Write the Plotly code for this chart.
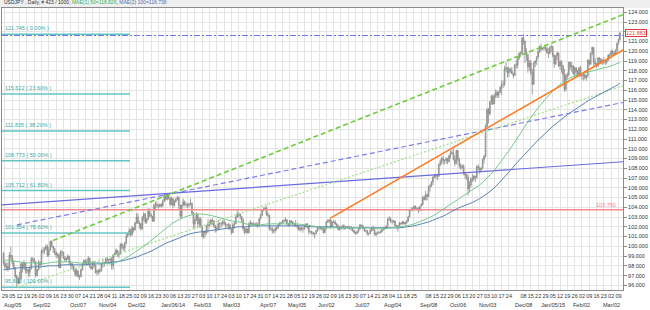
import datetime as dt
import plotly.graph_objects as go

# ---------------- data ----------------
first_open = 99.30
closes = [
    98.25,
    97.90, 97.95, 97.70, 99.10, 98.90,
    98.30, 97.80, 96.90, 96.70, 96.20,
    96.70, 98.20, 97.80, 98.30, 97.50,
    97.60, 97.30, 97.70, 98.70, 98.70,
    98.40, 97.00, 97.60, 98.40, 98.10,
    99.50, 99.50, 99.70, 100.00, 99.10,
    99.60, 100.50, 100.00, 99.80, 99.40,
    99.10, 99.10, 97.80, 99.40, 99.40,
    98.80, 98.60, 98.70, 99.00, 98.30,
    98.20, 98.00, 97.60, 97.10, 97.50,
    96.90, 96.90, 97.60, 98.20, 98.60,
    98.40, 98.20, 98.80, 97.90, 97.70,
    98.20, 98.10, 97.30, 97.50, 97.40,
    97.50, 98.20, 98.30, 98.30, 98.70,
    98.60, 98.60, 98.70, 98.00, 99.10,
    99.20, 99.60, 99.10, 99.20, 100.20,
    99.90, 99.80, 100.30, 101.00, 101.30,
    101.60, 101.20, 101.90, 101.70, 102.40,
    103.00, 102.40, 102.30, 101.80, 102.90,
    103.30, 102.50, 102.80, 103.60, 103.20,
    103.10, 102.60, 104.20, 104.30, 104.20,
    104.10, 104.30, 104.10, 104.60, 105.30,
    104.80, 105.30, 104.90, 104.30, 104.90,
    104.20, 104.60, 104.80, 105.00, 104.20,
    103.10, 104.20, 104.60, 104.30, 104.30,
    104.20, 104.30, 104.40, 103.40, 102.30,
    102.70, 103.20, 102.30, 102.80, 102.00,
    101.00, 101.50, 101.40, 102.10, 102.30,
    102.30, 102.70, 102.60, 102.10, 101.80,
    101.80, 102.30, 102.30, 102.30, 102.50,
    102.40, 102.20, 102.20, 102.20, 101.80,
    101.40, 102.20, 102.30, 103.00, 103.30,
    103.30, 103.10, 102.70, 101.80, 101.40,
    101.80, 101.40, 102.30, 102.40, 102.30,
    102.30, 102.30, 102.20, 102.10, 102.80,
    103.20, 103.70, 103.80, 103.90, 103.30,
    103.20, 101.80, 101.80, 101.60, 101.60,
    101.80, 101.90, 102.20, 102.40, 102.40,
    102.60, 102.60, 102.70, 102.30, 102.20,
    102.60, 102.50, 102.30, 102.30, 102.20,
    102.10, 101.70, 101.90, 101.90, 101.80,
    102.20, 102.30, 102.00, 101.50, 101.50,
    101.40, 101.30, 101.30, 101.60, 101.90,
    101.90, 101.90, 101.80, 101.40, 101.80,
    102.50, 102.60, 102.70, 102.00, 102.50,
    102.50, 102.30, 102.10, 101.70, 102.00,
    101.90, 102.10, 101.90, 101.90, 102.00,
    101.90, 101.90, 101.90, 101.60, 101.40,
    101.30, 101.50, 101.80, 102.20, 102.10,
    101.90, 101.60, 101.60, 101.30, 101.30,
    101.60, 101.90, 101.70, 101.20, 101.30,
    101.40, 101.40, 101.50, 101.70, 101.80,
    101.90, 102.10, 102.80, 102.80, 102.60,
    102.60, 102.60, 102.10, 102.10, 102.00,
    102.40, 102.30, 102.50, 102.30, 102.40,
    102.60, 103.00, 103.70, 103.80, 103.80,
    104.10, 103.90, 103.90, 103.70, 104.10,
    104.30, 105.00, 104.80, 105.30, 105.10,
    106.10, 106.20, 106.60, 107.10, 107.30,
    107.20, 107.20, 108.40, 108.70, 109.00,
    108.80, 108.80, 109.00, 108.70, 109.30,
    109.60, 109.60, 108.90, 108.50, 109.80,
    108.90, 108.30, 108.10, 108.20, 107.60,
    107.30, 107.10, 105.90, 106.30, 106.90,
    106.90, 107.20, 107.10, 108.20, 108.10,
    107.80, 108.00, 108.90, 109.20, 112.30,
    114.00, 113.60, 114.80, 115.40, 114.60,
    115.40, 115.80, 115.50, 115.80, 116.30,
    116.60, 116.60, 118.20, 118.30, 117.80,
    118.20, 118.00, 117.70, 117.50, 118.60,
    118.60, 119.30, 119.80, 119.80, 121.40,
    121.00, 119.90, 119.60, 118.40, 118.80,
    117.80, 116.60, 118.80, 119.00, 119.40,
    120.00, 120.50, 120.20, 120.30, 120.40,
    120.30, 119.90, 119.80, 120.40, 120.50,
    119.60, 118.70, 119.50, 119.80, 118.50,
    118.90, 118.50, 117.60, 116.10, 117.50,
    117.60, 118.90, 118.40, 118.50, 117.70,
    118.30, 117.90, 117.50, 118.30, 117.50,
    117.50, 117.60, 117.30, 117.50, 119.10,
    118.70, 119.80, 120.40, 118.90, 118.70,
    118.50, 119.30, 119.20, 118.90, 119.00,
    118.90, 118.90, 119.10, 119.60, 119.60,
    120.00, 119.80, 119.70, 120.10, 120.80,
    121.20, 121.883,
]
highs = [
    99.40,
    98.50, 98.30, 98.40, 99.40, 99.95,
    99.10, 98.60, 97.90, 97.10, 96.90,
    97.40, 98.40, 98.40, 98.60, 98.10,
    97.80, 97.70, 98.00, 98.90, 98.90,
    98.80, 98.50, 97.70, 98.60, 98.40,
    99.70, 99.90, 99.90, 100.20, 100.20,
    99.90, 100.60, 100.60, 100.00, 99.80,
    99.50, 99.30, 99.30, 99.60, 99.60,
    99.40, 99.00, 98.90, 99.20, 99.00,
    98.40, 98.30, 98.00, 97.70, 97.70,
    97.50, 97.10, 97.70, 98.30, 98.60,
    98.50, 98.70, 99.00, 98.80, 98.00,
    98.40, 98.50, 98.10, 97.60, 97.70,
    97.70, 98.30, 98.70, 98.40, 98.80,
    98.90, 98.70, 98.80, 98.90, 99.20,
    99.40, 99.80, 99.60, 99.50, 100.30,
    100.40, 100.20, 100.50, 101.30, 101.40,
    101.90, 101.80, 102.10, 101.90, 102.50,
    103.40, 103.40, 102.60, 102.40, 103.10,
    103.50, 103.40, 102.90, 103.90, 103.90,
    103.40, 103.10, 104.40, 104.60, 104.60,
    104.30, 104.40, 104.40, 104.80, 105.40,
    105.30, 105.40, 105.45, 105.10, 105.10,
    104.90, 104.80, 105.00, 105.20, 105.10,
    104.20, 104.30, 104.90, 104.70, 104.50,
    104.40, 104.50, 104.90, 104.50, 103.50,
    102.90, 103.50, 103.40, 103.00, 103.00,
    102.20, 101.60, 101.60, 102.20, 102.80,
    102.60, 102.80, 102.90, 102.70, 102.20,
    102.10, 102.70, 102.50, 102.50, 102.70,
    102.70, 102.50, 102.30, 102.40, 102.30,
    101.80, 102.40, 102.50, 103.10, 103.70,
    103.50, 103.40, 103.10, 102.90, 102.00,
    101.90, 101.80, 102.50, 102.70, 102.50,
    102.40, 102.40, 102.50, 102.40, 102.90,
    103.30, 103.80, 104.00, 104.10, 104.10,
    103.50, 103.20, 102.00, 102.00, 101.80,
    102.00, 102.00, 102.30, 102.50, 102.50,
    102.70, 102.80, 103.00, 102.80, 102.40,
    102.70, 102.70, 102.60, 102.40, 102.70,
    102.20, 102.20, 102.00, 102.00, 101.90,
    102.20, 102.30, 102.40, 102.00, 101.60,
    101.60, 101.50, 101.40, 101.70, 102.00,
    102.10, 102.10, 102.00, 101.90, 101.90,
    102.60, 102.80, 102.80, 102.80, 102.60,
    102.70, 102.70, 102.40, 102.30, 102.10,
    102.10, 102.20, 102.30, 102.10, 102.10,
    102.10, 102.10, 102.10, 101.90, 101.70,
    101.50, 101.60, 101.90, 102.30, 102.20,
    102.20, 101.90, 101.70, 101.70, 101.40,
    101.80, 102.00, 102.10, 101.80, 101.50,
    101.50, 101.60, 101.60, 101.80, 101.90,
    102.00, 102.10, 102.90, 103.10, 103.00,
    102.70, 102.70, 102.60, 102.20, 102.20,
    102.50, 102.40, 102.60, 102.60, 102.50,
    102.70, 103.10, 103.80, 104.00, 104.00,
    104.20, 104.20, 104.00, 104.00, 104.10,
    104.40, 105.20, 105.20, 105.70, 105.40,
    106.20, 106.40, 106.70, 107.20, 107.40,
    107.40, 107.30, 108.50, 108.90, 109.20,
    109.30, 108.90, 109.10, 109.10, 109.40,
    109.80, 109.90, 110.09, 109.30, 109.90,
    109.90, 109.10, 108.50, 108.40, 108.40,
    107.60, 107.40, 107.40, 106.70, 107.10,
    107.40, 107.30, 107.20, 108.30, 108.40,
    108.10, 108.10, 109.00, 109.40, 112.50,
    114.20, 114.20, 114.90, 115.50, 115.60,
    115.60, 116.10, 116.00, 115.90, 116.40,
    117.00, 117.00, 118.50, 118.90, 118.40,
    118.40, 118.30, 118.40, 117.80, 118.70,
    119.10, 119.40, 119.90, 120.00, 121.40,
    121.75, 121.10, 120.30, 119.80, 119.10,
    119.10, 118.20, 118.90, 119.10, 119.50,
    120.10, 120.60, 120.80, 120.40, 120.50,
    120.50, 120.50, 120.30, 120.50, 120.70,
    120.50, 119.70, 119.60, 120.00, 119.90,
    119.10, 119.10, 118.60, 118.20, 117.70,
    117.80, 118.90, 118.90, 118.90, 118.60,
    118.40, 118.40, 118.10, 118.40, 118.50,
    117.70, 117.80, 117.70, 117.60, 119.20,
    119.10, 119.90, 120.48, 120.40, 119.30,
    118.80, 119.40, 119.40, 119.30, 119.20,
    119.40, 119.10, 119.20, 119.70, 119.80,
    120.10, 120.20, 120.00, 120.20, 120.90,
    121.30, 122.00,
]
lows = [
    98.10,
    97.60, 97.55, 97.40, 97.60, 98.55,
    98.10, 97.60, 96.70, 95.81, 96.10,
    96.20, 96.60, 97.30, 97.60, 97.20,
    97.20, 96.80, 96.90, 97.60, 98.40,
    98.20, 96.80, 96.90, 97.50, 97.70,
    98.20, 99.20, 99.20, 99.60, 98.90,
    98.90, 99.60, 99.90, 99.30, 99.10,
    98.80, 98.80, 97.75, 97.80, 99.00,
    98.70, 98.40, 98.40, 98.60, 98.10,
    97.70, 97.70, 97.40, 96.90, 96.90,
    96.80, 96.56, 96.80, 97.50, 98.00,
    98.10, 98.00, 98.10, 97.80, 97.60,
    97.60, 97.80, 97.20, 97.00, 97.10,
    97.30, 97.40, 97.80, 97.90, 98.20,
    98.30, 98.30, 98.40, 97.60, 97.60,
    98.90, 99.10, 98.90, 98.80, 99.20,
    99.70, 99.50, 99.50, 100.20, 100.90,
    101.10, 101.00, 101.10, 101.40, 101.60,
    102.30, 102.30, 101.80, 101.60, 101.70,
    102.60, 102.30, 102.30, 102.70, 103.00,
    102.90, 102.50, 102.50, 103.70, 103.90,
    103.90, 104.00, 104.00, 104.10, 104.60,
    104.70, 104.70, 104.80, 104.10, 104.20,
    103.90, 104.10, 104.50, 104.70, 103.80,
    102.90, 102.90, 104.10, 104.10, 104.00,
    103.90, 104.00, 104.20, 103.30, 101.80,
    101.80, 102.60, 102.00, 101.90, 101.90,
    100.90, 100.76, 100.90, 101.20, 101.40,
    102.00, 102.10, 102.20, 101.90, 101.40,
    101.50, 101.60, 101.80, 101.90, 102.10,
    102.20, 101.90, 101.90, 101.70, 101.70,
    101.20, 101.50, 101.80, 102.30, 102.90,
    103.00, 102.80, 102.50, 101.60, 101.20,
    101.40, 101.30, 101.30, 102.10, 102.10,
    102.10, 102.10, 102.00, 101.90, 102.00,
    102.80, 103.10, 103.60, 103.70, 103.10,
    103.00, 101.60, 101.60, 101.30, 101.30,
    101.40, 101.60, 101.80, 102.10, 102.30,
    102.30, 102.40, 102.50, 102.20, 102.00,
    102.10, 102.40, 102.10, 102.00, 102.00,
    101.80, 101.60, 101.50, 101.60, 101.40,
    101.70, 101.90, 101.80, 101.20, 101.30,
    101.20, 101.10, 100.81, 101.20, 101.50,
    101.70, 101.70, 101.60, 101.30, 101.40,
    101.80, 102.40, 102.40, 101.80, 102.00,
    102.40, 102.20, 101.90, 101.70, 101.60,
    101.70, 101.80, 101.70, 101.70, 101.90,
    101.80, 101.70, 101.60, 101.50, 101.30,
    101.20, 101.30, 101.40, 101.70, 102.00,
    101.80, 101.50, 101.40, 101.10, 101.10,
    101.30, 101.50, 101.60, 101.10, 101.00,
    101.20, 101.30, 101.30, 101.40, 101.60,
    101.70, 101.80, 102.00, 102.60, 102.40,
    102.30, 102.40, 102.00, 101.80, 101.50,
    102.00, 102.20, 102.20, 102.30, 102.10,
    102.30, 102.50, 103.00, 103.60, 103.60,
    103.80, 103.80, 103.80, 103.40, 103.60,
    104.10, 104.20, 104.70, 104.70, 104.70,
    105.10, 105.60, 106.10, 106.30, 107.00,
    106.90, 106.80, 107.10, 108.20, 108.40,
    108.40, 108.40, 108.50, 108.40, 108.60,
    109.00, 109.40, 108.80, 108.20, 108.40,
    108.70, 108.00, 107.80, 107.90, 107.30,
    106.90, 106.80, 105.20, 105.50, 106.10,
    106.60, 106.70, 106.60, 106.90, 107.80,
    107.40, 107.60, 107.90, 108.50, 109.10,
    112.30, 112.60, 113.40, 114.50, 114.50,
    114.60, 115.20, 115.20, 115.20, 115.70,
    115.50, 116.20, 116.40, 117.90, 117.30,
    117.40, 117.80, 117.70, 117.20, 117.50,
    118.30, 118.20, 119.10, 119.40, 119.70,
    120.70, 118.80, 119.00, 117.80, 118.00,
    117.60, 115.57, 116.60, 118.40, 118.60,
    119.30, 119.80, 120.00, 120.10, 120.10,
    120.00, 119.70, 119.30, 119.70, 119.90,
    119.40, 118.30, 118.60, 119.10, 118.40,
    118.10, 117.80, 116.80, 115.85, 115.90,
    117.20, 117.40, 118.10, 117.90, 117.60,
    117.30, 117.50, 117.40, 117.30, 117.40,
    117.10, 117.00, 117.10, 117.00, 117.30,
    118.50, 118.60, 119.60, 118.50, 118.50,
    118.30, 118.40, 118.80, 118.70, 118.60,
    118.70, 118.60, 118.70, 119.00, 119.20,
    119.50, 119.60, 119.60, 119.60, 119.90,
    120.70, 121.10,
]

# moving averages, one value per Monday (plus first/last bar)
ma50_vals = [
    98.65,
    98.6, 98.5, 98.4, 98.3, 98.3, 98.2, 98.3, 98.4, 98.4, 98.4, 98.3, 98.3, 98.4, 98.3,
    98.2, 98.3, 98.6, 99.0, 99.5, 100.0, 100.6, 101.2, 101.8,
    102.4, 102.8, 103.1, 103.3, 103.3, 103.2, 103.0, 102.8, 102.6, 102.5, 102.3, 102.2,
    102.2, 102.3, 102.3, 102.3, 102.3, 102.3, 102.2, 102.1, 102.0, 101.9, 101.9, 101.9,
    101.9, 101.9, 101.9, 101.9, 101.8, 101.8, 101.9, 102.0, 102.1, 102.3, 102.6, 102.9,
    103.3, 103.8, 104.3, 104.8, 105.3, 105.8, 106.3, 107.0, 107.8, 108.8, 109.8, 110.9,
    112.1, 113.2, 114.2, 115.1,
    115.9, 116.6, 117.1, 117.5, 117.7, 117.9, 118.1, 118.3, 118.5, 118.8,
    118.83,
]
ma100_vals = [
    97.6,
    97.6, 97.7, 97.8, 97.8, 97.9, 97.9, 98.0, 98.0, 98.1, 98.1, 98.1, 98.1, 98.2, 98.2,
    98.3, 98.4, 98.5, 98.7, 98.9, 99.2, 99.5, 99.9, 100.3,
    100.6, 100.9, 101.2, 101.4, 101.5, 101.6, 101.7, 101.8, 101.9, 102.0, 102.0, 102.1,
    102.1, 102.1, 102.1, 102.1, 102.1, 102.1, 102.1, 102.0, 102.0, 102.0, 102.0, 101.9,
    101.9, 101.9, 101.9, 101.9, 101.9, 101.9, 101.9, 101.9, 102.0, 102.1, 102.3, 102.5,
    102.8, 103.1, 103.5, 103.9, 104.2, 104.5, 104.9, 105.4, 106.0, 106.8, 107.6, 108.5,
    109.3, 110.1, 110.9, 111.6,
    112.3, 112.9, 113.5, 114.0, 114.5, 115.0, 115.4, 115.8, 116.2, 116.6,
    116.74,
]

fib_levels = [121.745, 115.622, 111.835, 108.773, 105.712, 101.354, 95.800]
fib_pcts = ["0.00%", "23.60%", "38.20%", "50.00%", "61.80%", "78.60%", "100.00%"]

# trend lines: (bar index, price) pairs
green_dash = [(33.9, 100.60), (424.1, 123.75)]
blue_dash = [(9.2, 102.20), (424.1, 114.75)]
blue_solid = [(-1.05, 104.24), (424.1, 108.67)]
orange_line = [(223.5, 102.87), (424.1, 120.13)]
green_dot = [(9.9, 95.80), (424.1, 116.45)]
blue_hline = 121.62
red_hline = 103.75
last_price = 121.883
month_names = ["Jan", "Feb", "Mar", "Apr", "May", "Jun", "Jul", "Aug", "Sep", "Oct", "Nov", "Dec"]
skip_labels = [dt.date(2014, 9, 1), dt.date(2014, 12, 1)]

# ---------------- build ----------------
n = len(closes)
dates = []
d = dt.date(2013, 7, 26)
while len(dates) < n:
    if d.weekday() < 5:
        dates.append(d)
    d += dt.timedelta(days=1)
x = list(range(n))
opens = [first_open] + closes[:-1]
hi = [max(h, o, c) for h, o, c in zip(highs, opens, closes)]
lo = [min(l, o, c) for l, o, c in zip(lows, opens, closes)]

XMIN, XMAX = -1.05, 424.1
YMIN, YMAX = 95.52, 124.44

tickvals, ticktext, months = [], [], []
seen = {(dates[0].year, dates[0].month)}  # partial first month gets no month label
for i, dd in enumerate(dates):
    if dd.weekday() == 0:
        tickvals.append(i)
        if dd in skip_labels:
            ticktext.append("")
            continue
        ticktext.append(f"{dd.day:02d}")
        key = (dd.year, dd.month)
        if key not in seen:
            seen.add(key)
            lab = f"{month_names[dd.month-1]}/{dd.day:02d}"
            if dd.month == 1:
                lab += f"/{dd.year % 100:02d}"
            months.append((i, lab))

ma_x = [0] + [i for i, dd in enumerate(dates) if dd.weekday() == 0] + [n - 1]

ytickvals = list(range(96, 125))
yticktext = ["" if abs(v - last_price) < 0.5 else f"{v:.3f}" for v in ytickvals]

fig = go.Figure()
FONT = "Liberation Sans, Arial, sans-serif"
FS = 5.5

def seg(pts, color, width, dash="solid"):
    fig.add_trace(go.Scatter(x=[p[0] for p in pts], y=[p[1] for p in pts], mode="lines",
                             line=dict(color=color, width=width, dash=dash),
                             hoverinfo="skip", showlegend=False))

# horizontal lines
seg([(XMIN, red_hline), (XMAX, red_hline)], "#f28a8a", 1.5)
seg([(XMIN, blue_hline), (XMAX, blue_hline)], "#7373ee", 1.2, "6px,2px,2px,2px")
for lv in fib_levels:
    seg([(XMIN, lv), (86.6, lv)], "#62c6c6", 1.5)

# trend lines
seg(blue_solid, "#6a6ae0", 1.2)
seg(blue_dash, "#7b7bf0", 1.2, "5px,3px")
seg(green_dot, "#a6e08a", 1.3, "2px,2px")
seg(green_dash, "#6ccc3a", 1.6, "5px,3px")

# moving averages
fig.add_trace(go.Scatter(x=ma_x, y=ma100_vals, mode="lines", line=dict(color="#5b82b5", width=1, shape="spline"),
                         hoverinfo="skip", showlegend=False))
fig.add_trace(go.Scatter(x=ma_x, y=ma50_vals, mode="lines", line=dict(color="#72c98e", width=1, shape="spline"),
                         hoverinfo="skip", showlegend=False))

# candles
fig.add_trace(go.Candlestick(
    x=x, open=opens, high=hi, low=lo, close=closes,
    increasing=dict(line=dict(color="#8c8c8c", width=0.8), fillcolor="#7fcf7f"),
    decreasing=dict(line=dict(color="#8c8c8c", width=0.8), fillcolor="#f08080"),
    whiskerwidth=0, showlegend=False, hoverinfo="skip"))

seg(orange_line, "#ff7a22", 1.6)

# fib labels
for lv, pc in zip(fib_levels, fib_pcts):
    fig.add_annotation(x=XMIN + 0.5, y=lv, xref="x", yref="y", text=f"{lv:.3f} ( {pc} )",
                       showarrow=False, xanchor="left", yanchor="bottom", yshift=1,
                       font=dict(family=FONT, size=FS, color="#3aa9a9"))

# red line label
fig.add_annotation(x=XMAX - 3.5, y=red_hline, xref="x", yref="y", text=f"{red_hline:.3f}",
                   showarrow=False, xanchor="right", yanchor="bottom", yshift=0,
                   font=dict(family=FONT, size=FS, color="#f08080"))

# last price box
fig.add_annotation(x=1.0, y=last_price, xref="paper", yref="y", text=f"{last_price:.3f}",
                   showarrow=False, xanchor="left", yanchor="middle", xshift=2,
                   bgcolor="white", bordercolor="#e03a3a", borderwidth=1, borderpad=0,
                   font=dict(family=FONT, size=FS, color="#e04040"))

# month labels (second row under the day numbers)
for i, lab in months:
    px = (i - XMIN) / (XMAX - XMIN) * 621
    if px < 12:
        fig.add_annotation(x=0, y=0, xref="paper", yref="paper", text=lab, showarrow=False,
                           xanchor="left", yanchor="top", yshift=-10,
                           font=dict(family=FONT, size=FS, color="#333333"))
    else:
        fig.add_annotation(x=i, y=0, xref="x", yref="paper", text=lab, showarrow=False,
                           xanchor="center", yanchor="top", yshift=-10,
                           font=dict(family=FONT, size=FS, color="#333333"))

# title band and text
fig.add_shape(type="rect", xref="paper", yref="paper", x0=-0.01, x1=1.1, y0=1.0, y1=1.04,
              fillcolor="#efefef", line_width=0, layer="below")
fig.add_annotation(x=0, y=1.0, xref="paper", yref="paper", xshift=0, yshift=1,
                   text="USDJPY , Daily, # 423 / 1000, <span style='color:#3cb35a'>MAE(1) 50=118.826</span>, "
                        "<span style='color:#4a74b0'>MAE(2) 100=116.738</span>",
                   showarrow=False, xanchor="left", yanchor="bottom",
                   font=dict(family=FONT, size=5, color="#333333"))

fig.update_layout(
    width=650, height=310,
    margin=dict(l=2, r=27, t=8, b=20),
    paper_bgcolor="white", plot_bgcolor="white",
    showlegend=False,
    xaxis=dict(range=[XMIN, XMAX], tickvals=tickvals, ticktext=ticktext, tickangle=0,
               showgrid=True, gridcolor="#e4e4e4", gridwidth=1,
               showline=True, linecolor="#8c8c8c", mirror=True, linewidth=1,
               ticks="", tickfont=dict(family=FONT, size=FS, color="#333333"),
               rangeslider=dict(visible=False), zeroline=False, fixedrange=True),
    yaxis=dict(range=[YMIN, YMAX], side="right", tickvals=ytickvals, ticktext=yticktext,
               showgrid=True, gridcolor="#e4e4e4", gridwidth=1,
               showline=True, linecolor="#8c8c8c", mirror=True, linewidth=1,
               ticks="outside", ticklen=3, tickcolor="#8c8c8c",
               tickfont=dict(family=FONT, size=FS, color="#333333"), zeroline=False, fixedrange=True),
)

fig.write_html("out.html")
